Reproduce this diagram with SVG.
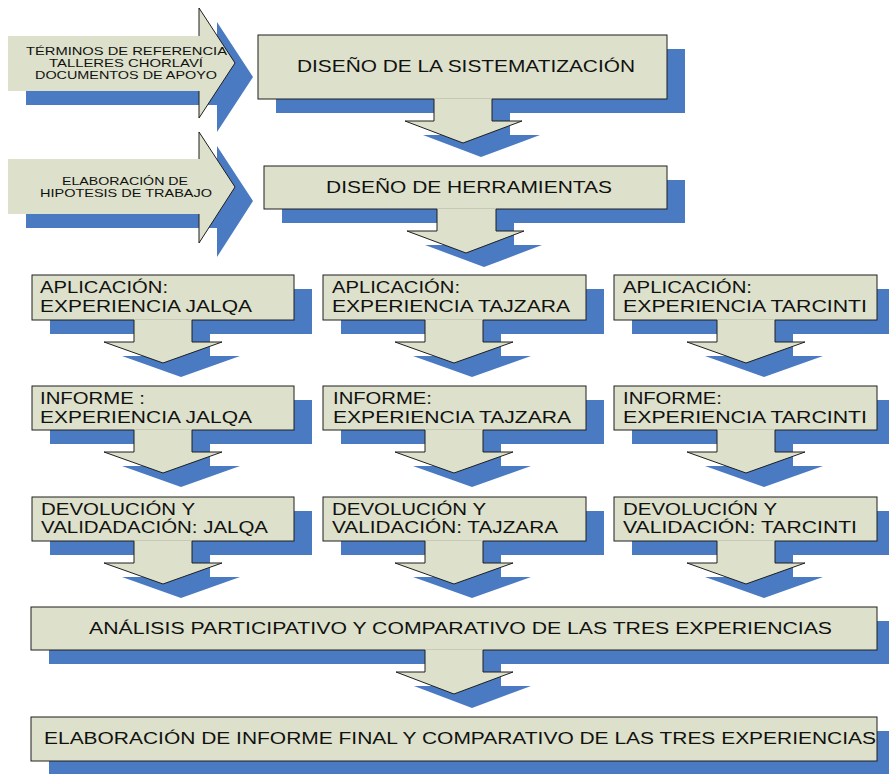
<svg xmlns="http://www.w3.org/2000/svg" width="889" height="774" viewBox="0 0 889 774">
<defs>
<style>
.shd{fill:#4a7bc2}
.box{fill:#dde1cb;stroke:#1e1e1e;stroke-width:1}
.cf{fill:#dde1cb}
.cs{fill:none;stroke:#1e1e1e;stroke-width:1}
.t{font-family:"Liberation Sans",Arial,sans-serif;fill:#111}
.s{font-size:10.5px}
.m{font-size:16px}
</style>
</defs>
<rect width="889" height="774" fill="#ffffff"/>
<g id="shadows" class="shd" transform="translate(18,14)">
<path d="M8,36 H199 V8 L235,63 L199,118 V91 H8 Z"/>
<path d="M8,159 H199 V132 L235,187 L199,243 V214 H8 Z"/>
<path d="M258,35 H667 V99 H492 V121 H522 L463,143 L405,121 H434 V99 H258 Z"/>
<path d="M264,166 H667 V209 H496 V231 H524 L466,253 L407,231 H437 V209 H264 Z"/>
<path d="M32,275 H294 V320 H192 V342 H222 L163,363 L104,342 H134 V320 H32 Z"/>
<path d="M323,275 H586 V320 H483 V342 H513 L454,363 L395,342 H425 V320 H323 Z"/>
<path d="M614,275 H877 V320 H775 V342 H805 L746,363 L687,342 H717 V320 H614 Z"/>
<path d="M32,386 H294 V430 H192 V452 H222 L163,473 L104,452 H134 V430 H32 Z"/>
<path d="M323,386 H586 V430 H483 V452 H513 L454,473 L395,452 H425 V430 H323 Z"/>
<path d="M614,386 H877 V430 H775 V452 H805 L746,473 L687,452 H717 V430 H614 Z"/>
<path d="M32,497 H294 V541 H192 V563 H222 L163,584 L104,563 H134 V541 H32 Z"/>
<path d="M323,497 H586 V541 H483 V563 H513 L454,584 L395,563 H425 V541 H323 Z"/>
<path d="M614,497 H877 V541 H775 V563 H805 L746,584 L687,563 H717 V541 H614 Z"/>
<path d="M31,607 H877 V650 H483 V672 H513 L454,694 L396,672 H425 V650 H31 Z"/>
<path d="M31,717 H877 V761 H31 Z"/>
</g>
<g id="inputs">
<g id="in-referencia">
<path class="cf" d="M8,36 H199 V8 L235,63 L199,118 V91 H8 Z"/>
<path class="cs" d="M199,36 V8 L235,63 L199,118 V91"/>
<text class="t s" x="26" y="55" textLength="201" lengthAdjust="spacingAndGlyphs">TÉRMINOS DE REFERENCIA</text>
<text class="t s" x="49" y="67" textLength="154" lengthAdjust="spacingAndGlyphs">TALLERES CHORLAVÍ</text>
<text class="t s" x="35" y="79" textLength="182" lengthAdjust="spacingAndGlyphs">DOCUMENTOS DE APOYO</text>
</g>
<g id="in-hipotesis">
<path class="cf" d="M8,159 H199 V132 L235,187 L199,243 V214 H8 Z"/>
<path class="cs" d="M199,159 V132 L235,187 L199,243 V214"/>
<text class="t s" x="62" y="185" textLength="126" lengthAdjust="spacingAndGlyphs">ELABORACIÓN DE</text>
<text class="t s" x="40" y="197" textLength="172" lengthAdjust="spacingAndGlyphs">HIPOTESIS DE TRABAJO</text>
</g>
</g>
<g id="nodes">
<g id="diseno-sistematizacion">
<rect class="box" x="258" y="35" width="409" height="64"/>
<text class="t" style="font-size:17px" x="297" y="72" textLength="338" lengthAdjust="spacingAndGlyphs">DISEÑO DE LA SISTEMATIZACIÓN</text>
</g>
<g id="diseno-herramientas">
<rect class="box" x="264" y="166" width="403" height="43"/>
<text class="t" style="font-size:16.5px" x="326" y="193" textLength="286" lengthAdjust="spacingAndGlyphs">DISEÑO DE HERRAMIENTAS</text>
</g>
<g id="aplicacion-jalqa">
<rect class="box" x="32" y="275" width="262" height="45"/>
<text class="t m" x="40" y="293" textLength="128" lengthAdjust="spacingAndGlyphs">APLICACIÓN:</text>
<text class="t m" x="40" y="312" textLength="212" lengthAdjust="spacingAndGlyphs">EXPERIENCIA JALQA</text>
</g>
<g id="aplicacion-tajzara">
<rect class="box" x="323" y="275" width="263" height="45"/>
<text class="t m" x="332" y="293" textLength="128" lengthAdjust="spacingAndGlyphs">APLICACIÓN:</text>
<text class="t m" x="332" y="312" textLength="238" lengthAdjust="spacingAndGlyphs">EXPERIENCIA TAJZARA</text>
</g>
<g id="aplicacion-tarcinti">
<rect class="box" x="614" y="275" width="263" height="45"/>
<text class="t m" x="623" y="293" textLength="129" lengthAdjust="spacingAndGlyphs">APLICACIÓN:</text>
<text class="t m" x="623" y="312" textLength="244" lengthAdjust="spacingAndGlyphs">EXPERIENCIA TARCINTI</text>
</g>
<g id="informe-jalqa">
<rect class="box" x="32" y="386" width="262" height="44"/>
<text class="t m" x="40" y="404" textLength="105" lengthAdjust="spacingAndGlyphs">INFORME :</text>
<text class="t m" x="40" y="423" textLength="212" lengthAdjust="spacingAndGlyphs">EXPERIENCIA JALQA</text>
</g>
<g id="informe-tajzara">
<rect class="box" x="323" y="386" width="263" height="44"/>
<text class="t m" x="333" y="404" textLength="99" lengthAdjust="spacingAndGlyphs">INFORME:</text>
<text class="t m" x="333" y="423" textLength="238" lengthAdjust="spacingAndGlyphs">EXPERIENCIA TAJZARA</text>
</g>
<g id="informe-tarcinti">
<rect class="box" x="614" y="386" width="263" height="44"/>
<text class="t m" x="623" y="404" textLength="99" lengthAdjust="spacingAndGlyphs">INFORME:</text>
<text class="t m" x="623" y="423" textLength="244" lengthAdjust="spacingAndGlyphs">EXPERIENCIA TARCINTI</text>
</g>
<g id="devolucion-jalqa">
<rect class="box" x="32" y="497" width="262" height="44"/>
<text class="t m" x="41" y="515" textLength="154" lengthAdjust="spacingAndGlyphs">DEVOLUCIÓN Y</text>
<text class="t m" x="41" y="533" textLength="227" lengthAdjust="spacingAndGlyphs">VALIDADACIÓN: JALQA</text>
</g>
<g id="devolucion-tajzara">
<rect class="box" x="323" y="497" width="263" height="44"/>
<text class="t m" x="332" y="515" textLength="154" lengthAdjust="spacingAndGlyphs">DEVOLUCIÓN Y</text>
<text class="t m" x="332" y="533" textLength="226" lengthAdjust="spacingAndGlyphs">VALIDACIÓN: TAJZARA</text>
</g>
<g id="devolucion-tarcinti">
<rect class="box" x="614" y="497" width="263" height="44"/>
<text class="t m" x="623" y="515" textLength="154" lengthAdjust="spacingAndGlyphs">DEVOLUCIÓN Y</text>
<text class="t m" x="623" y="533" textLength="234" lengthAdjust="spacingAndGlyphs">VALIDACIÓN: TARCINTI</text>
</g>
<g id="analisis">
<rect class="box" x="31" y="607" width="846" height="43"/>
<text class="t m" x="89" y="634" textLength="743" lengthAdjust="spacingAndGlyphs">ANÁLISIS PARTICIPATIVO Y COMPARATIVO DE LAS TRES EXPERIENCIAS</text>
</g>
<g id="informe-final">
<rect class="box" x="31" y="717" width="846" height="44"/>
<text class="t m" x="44" y="744" textLength="832" lengthAdjust="spacingAndGlyphs">ELABORACIÓN DE INFORME FINAL Y COMPARATIVO DE LAS TRES EXPERIENCIAS</text>
</g>
</g>
<g id="connectors">
<path class="cf" d="M434,98.3 H492 V121 H522 L463,143 L405,121 H434 Z"/>
<path class="cs" d="M434,99 V121 H405 L463,143 L522,121 H492 V99"/>
<path class="cf" d="M437,208.3 H496 V231 H524 L466,253 L407,231 H437 Z"/>
<path class="cs" d="M437,209 V231 H407 L466,253 L524,231 H496 V209"/>
<path class="cf" d="M134,319.3 H192 V342 H222 L163,363 L104,342 H134 Z"/>
<path class="cs" d="M134,320 V342 H104 L163,363 L222,342 H192 V320"/>
<path class="cf" d="M425,319.3 H483 V342 H513 L454,363 L395,342 H425 Z"/>
<path class="cs" d="M425,320 V342 H395 L454,363 L513,342 H483 V320"/>
<path class="cf" d="M717,319.3 H775 V342 H805 L746,363 L687,342 H717 Z"/>
<path class="cs" d="M717,320 V342 H687 L746,363 L805,342 H775 V320"/>
<path class="cf" d="M134,429.3 H192 V452 H222 L163,473 L104,452 H134 Z"/>
<path class="cs" d="M134,430 V452 H104 L163,473 L222,452 H192 V430"/>
<path class="cf" d="M425,429.3 H483 V452 H513 L454,473 L395,452 H425 Z"/>
<path class="cs" d="M425,430 V452 H395 L454,473 L513,452 H483 V430"/>
<path class="cf" d="M717,429.3 H775 V452 H805 L746,473 L687,452 H717 Z"/>
<path class="cs" d="M717,430 V452 H687 L746,473 L805,452 H775 V430"/>
<path class="cf" d="M134,540.3 H192 V563 H222 L163,584 L104,563 H134 Z"/>
<path class="cs" d="M134,541 V563 H104 L163,584 L222,563 H192 V541"/>
<path class="cf" d="M425,540.3 H483 V563 H513 L454,584 L395,563 H425 Z"/>
<path class="cs" d="M425,541 V563 H395 L454,584 L513,563 H483 V541"/>
<path class="cf" d="M717,540.3 H775 V563 H805 L746,584 L687,563 H717 Z"/>
<path class="cs" d="M717,541 V563 H687 L746,584 L805,563 H775 V541"/>
<path class="cf" d="M425,649.3 H483 V672 H513 L454,694 L396,672 H425 Z"/>
<path class="cs" d="M425,650 V672 H396 L454,694 L513,672 H483 V650"/>
</g>
</svg>
